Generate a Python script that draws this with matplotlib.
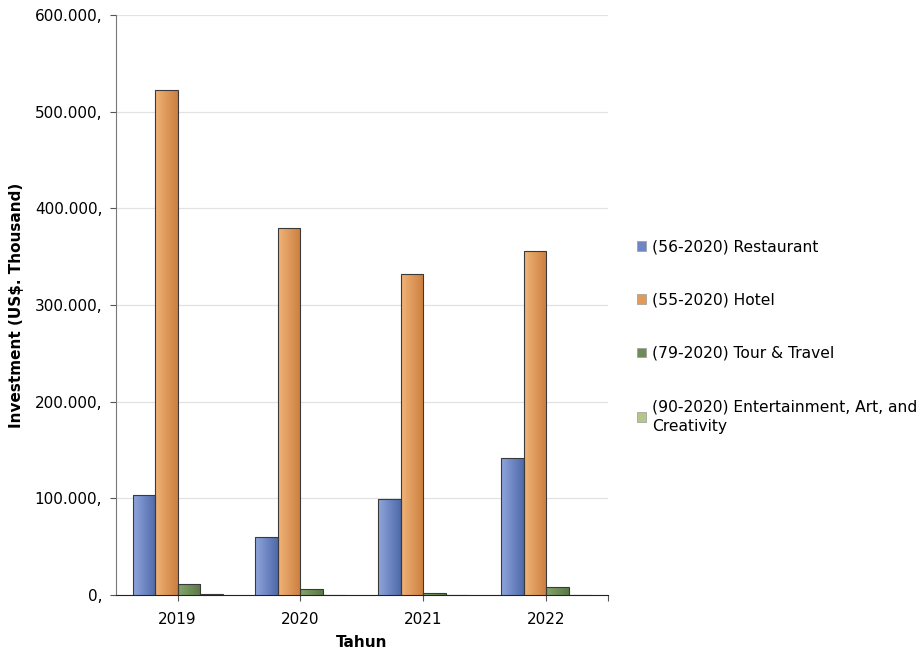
import numpy as np
import matplotlib
matplotlib.use("Agg")
import matplotlib.pyplot as plt
from matplotlib.colors import LinearSegmentedColormap
from matplotlib.ticker import FuncFormatter

# ------------------------------
# Datos (US$ Thousand)
# ------------------------------
years = ["2019", "2020", "2021", "2022"]
restaurant = [103400, 59900, 99100, 141400]
hotel = [522400, 380000, 332400, 356200]
tour_travel = [11800, 5900, 1800, 8300]
entertainment = [800, 500, 400, 500]

labels = ["(56-2020) Restaurant", "(55-2020) Hotel", "(79-2020) Tour & Travel",
          "(90-2020) Entertainment, Art, and\nCreativity"]

# colores: (claro izquierda, oscuro derecha)
grads = [("#8FA5DC", "#4F6AAA"),
         ("#F0B478", "#CC7E3E"),
         ("#86A46C", "#5A7846"),
         ("#C4D49A", "#98AC6C")]
legend_colors = ["#6F86C4", "#E09A5A", "#6E8C58", "#B4C68A"]

plt.rcParams['font.family'] = ['DejaVu Sans']

fig = plt.figure(figsize=(9.22, 6.56), dpi=100)
ax = fig.add_axes([0.126, 0.093, 0.533, 0.884])

x = np.arange(len(years))
w = 0.183
series = [restaurant, hotel, tour_travel, entertainment]
grad = np.linspace(0, 1, 64).reshape(1, -1)

for i, vals in enumerate(series):
    off = (i - 1.5) * w
    bars = ax.bar(x + off, vals, w, color=legend_colors[i], edgecolor="#3A3A3A",
                  linewidth=0.8, label=labels[i], zorder=3)
    cmap = LinearSegmentedColormap.from_list(f"g{i}", grads[i])
    # gradiente horizontal dentro de cada barra
    for b in bars:
        bx, by = b.get_x(), b.get_y()
        bw, bh = b.get_width(), b.get_height()
        im = ax.imshow(grad, cmap=cmap, aspect="auto",
                       extent=[bx, bx + bw, by, by + bh], zorder=3.5,
                       interpolation="bicubic")
        im.set_clip_path(b)
        b.set_facecolor("none")
        b.set_zorder(4)

ax.set_xlim(-0.5, 3.5)
ax.set_ylim(0, 600000)
ax.set_yticks(np.arange(0, 600001, 100000))
ax.yaxis.set_major_formatter(FuncFormatter(lambda v, p: f"{v:,.0f}".replace(",", ".") + ","))
ax.set_xticks(list(x) + [3.5])
ax.set_xticklabels(years + [""])
ax.tick_params(axis="both", labelsize=11, length=4, color="#555555")
ax.tick_params(axis="y", pad=6)
ax.tick_params(axis="x", pad=8)

ax.grid(True, axis="y", color="#E2E2E2", linewidth=0.9, zorder=0)
ax.set_axisbelow(True)
for s in ["top", "right"]:
    ax.spines[s].set_visible(False)
ax.spines["left"].set_color("#777777")
ax.spines["bottom"].set_color("#222222")

ax.set_ylabel("Investment (US$. Thousand)", fontsize=11, fontweight="bold", labelpad=8)
ax.set_xlabel("Tahun", fontsize=11, fontweight="bold", labelpad=6)

leg = fig.legend(loc="upper left", bbox_to_anchor=(0.684, 0.644), frameon=False,
                 fontsize=11.2, handlelength=0.6, handleheight=0.6, handletextpad=0.35,
                 labelspacing=2.45, borderaxespad=0)
for h, c in zip(leg.legend_handles, legend_colors):
    h.set_facecolor(c)
    h.set_edgecolor("#9A9A9A")
    h.set_linewidth(0.5)
leg.get_texts()[3].set_linespacing(1.45)

fig.savefig("out.png", dpi=100)
